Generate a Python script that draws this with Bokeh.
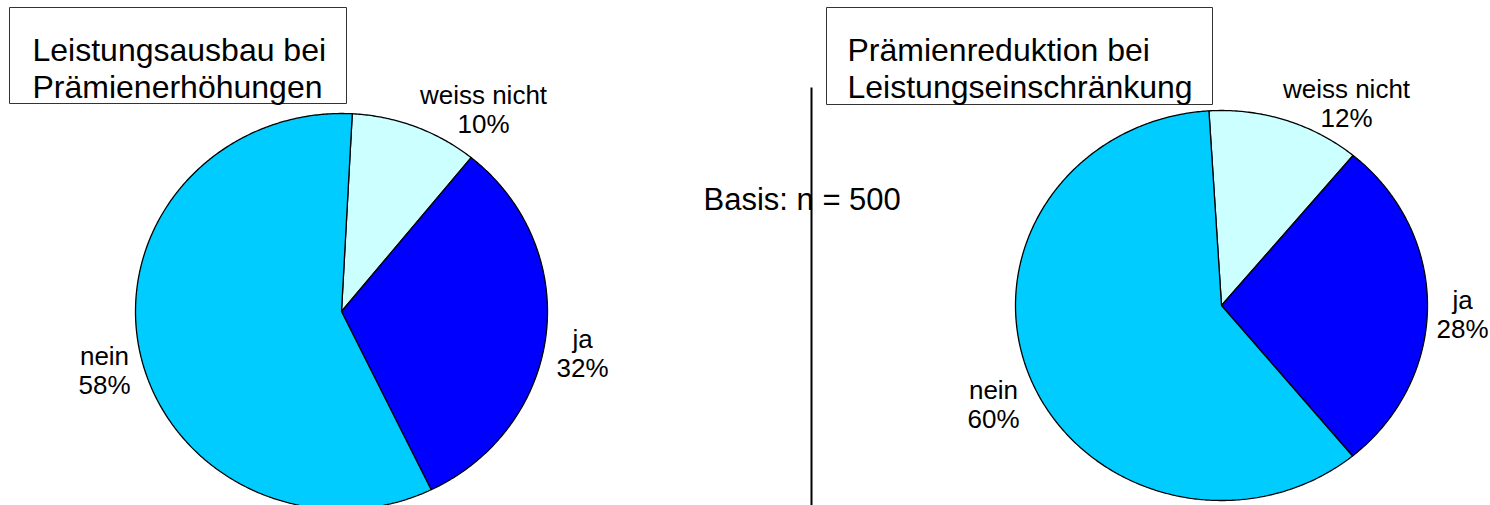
import numpy as np
from bokeh.plotting import figure
from bokeh.models import Range1d
from bokeh.core.properties import value
from bokeh.embed import file_html
from bokeh.resources import INLINE

# ---------------- data ----------------
categories = ["weiss nicht", "ja", "nein"]
left_values = [10, 32, 58]
right_values = [12, 28, 60]
left_title = ["Leistungsausbau bei", "Prämienerhöhungen"]
right_title = ["Prämienreduktion bei", "Leistungseinschränkung"]
basis_label = "Basis: n = 500"
slice_colors = ["#CCFFFF", "#0000FF", "#00CCFF"]

# ---------------- layout ----------------
W, H, M = 1490, 505, 0
FONT = value("Liberation Sans")

def px(x):
    return x - M

LEFT = dict(cx=341, cy=311, rx=206, ry=198, start=3.0,
            labels=[(483, 94), (582, 338), (104, 355)],
            box=(9, 346, 7, 103), title_x=32, title_y=(49, 86))
RIGHT = dict(cx=1221, cy=305, rx=206, ry=195, start=-3.5,
             labels=[(1346, 88), (1462, 299), (993, 389)],
             box=(826, 1212, 7, 104), title_x=847, title_y=(49, 86))

p = figure(width=W, height=H, output_backend="svg", toolbar_location=None,
           x_range=Range1d(0, W), y_range=Range1d(H, 0), min_border=0)
p.axis.visible = False
p.grid.visible = False
p.outline_line_color = None
p.background_fill_color = "white"
p.border_fill_color = "white"


def draw_pie(vals, cfg, titles):
    total = float(sum(vals))
    cum = np.cumsum([0] + list(vals)) / total * 360.0
    xs, ys = [], []
    for i in range(len(vals)):
        a0 = np.radians(cfg["start"] + cum[i])
        a1 = np.radians(cfg["start"] + cum[i + 1])
        n = max(int((a1 - a0) / np.radians(0.5)), 4)
        t = np.linspace(a0, a1, n)
        x = np.concatenate([[cfg["cx"]], cfg["cx"] + cfg["rx"] * np.sin(t)])
        y = np.concatenate([[cfg["cy"]], cfg["cy"] - cfg["ry"] * np.cos(t)])
        xs.append(list(px(x)))
        ys.append(list(px(y)))
    p.patches(xs, ys, fill_color=slice_colors, line_color="black", line_width=1.3)

    # labels
    lx, ly, lt = [], [], []
    for (x, y), cat, v in zip(cfg["labels"], categories, vals):
        lx += [px(x), px(x)]
        ly += [px(y), px(y + 29)]
        lt += [cat, f"{v}%"]
    p.text(x=lx, y=ly, text=lt, text_font=FONT, text_font_size=value("26px"),
           text_align="center", text_baseline="alphabetic", text_color="black")

    # title box
    l, r, t_, b = cfg["box"]
    p.quad(left=[px(l)], right=[px(r)], top=[px(t_)], bottom=[px(b)],
           fill_color="white", line_color="#333333", line_width=1)
    p.text(x=[px(cfg["title_x"])] * 2, y=[px(cfg["title_y"][0]), px(cfg["title_y"][1])],
           text=titles, text_font=FONT, text_font_size=value("32px"),
           text_align="left", text_baseline="alphabetic", text_color="black")


draw_pie(left_values, LEFT, left_title)
draw_pie(right_values, RIGHT, right_title)

# divider and basis text
p.segment(x0=[px(811)], y0=[px(87)], x1=[px(811)], y1=[H], line_color="black", line_width=2)
p.text(x=[px(703)], y=[px(199)], text=[basis_label], text_font=FONT,
       text_font_size=value("31px"), text_align="left", text_baseline="alphabetic",
       text_color="black")

open("out.html", "w").write(file_html(p, INLINE))
